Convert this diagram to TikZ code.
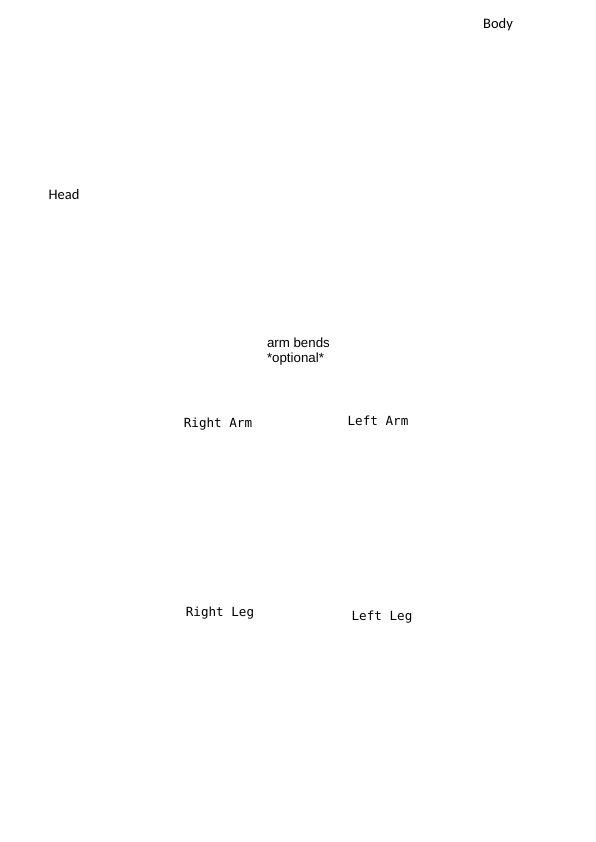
\documentclass[tikz,border=0pt]{standalone}
\usepackage{fontspec}
\usepackage{tikz}
\usetikzlibrary{positioning}
\newfontfamily\labelfont{Carlito}
\newfontfamily\notefont{Liberation Sans}
\newfontfamily\partfont{DejaVu Sans Mono}
\tikzset{
	x=1pt,
	y=-1pt,
	every node/.style={inner sep=0pt, outer sep=0pt},
	bodylabel/.style={font=\labelfont\fontsize{14.5}{17}\selectfont},
	partlabel/.style={font=\partfont\fontsize{12.6}{15}\selectfont},
	notelabel/.style={font=\notefont\fontsize{13.3}{15}\selectfont, align=left, anchor=west},
}

\begin{document}
\begin{tikzpicture}
        \useasboundingbox (0,0) rectangle (595,842);
        % main parts
        \node[bodylabel] (body) at (498,25) {Body};
        \node[bodylabel] (head) at (64,195) {Head};
        % note
        \node[notelabel] (bends) at (267,352) {arm bends\\*optional*};
        % limbs
        \node[partlabel] (rarm) at (218,424) {Right Arm};
        \node[partlabel] (larm) at (378,421) {Left Arm};
        \node[partlabel] (rleg) at (220,613) {Right Leg};
        \node[partlabel] (lleg) at (382,617) {Left Leg};
    \end{tikzpicture}
\end{document}
